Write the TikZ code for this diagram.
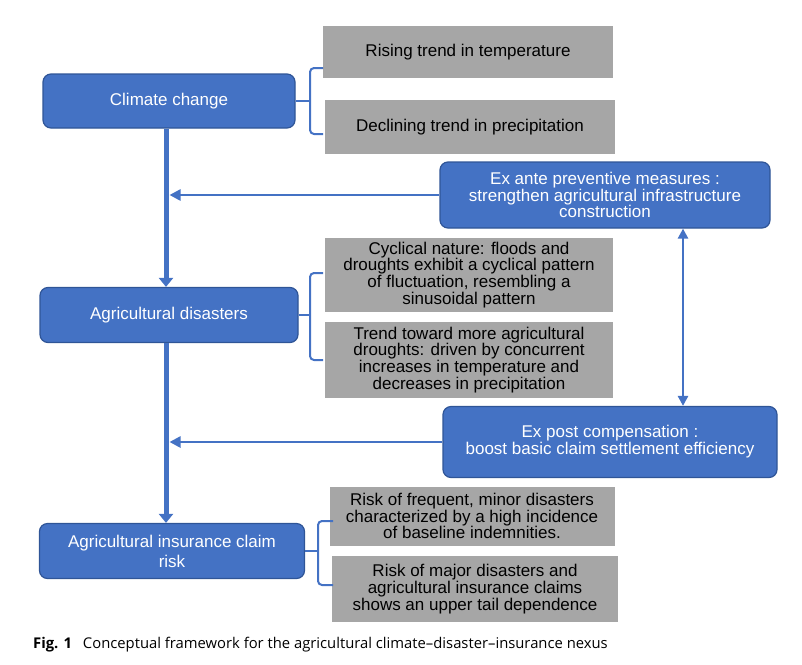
\documentclass[tikz,border=0pt]{standalone}
\usepackage{fontspec}
\setmainfont{Liberation Sans}
\newfontfamily\capfont{Open Sans}
\usetikzlibrary{arrows.meta}
\definecolor{boxblue}{HTML}{4472C4}
\definecolor{edgeblue}{HTML}{2F5597}
\definecolor{boxgrey}{HTML}{A6A6A6}

\begin{document}
\begin{tikzpicture}[x=1pt,y=-1pt,
    bluebox/.style={draw=edgeblue, line width=1.2pt, fill=boxblue, rounded corners=8pt,
      text=white, align=center, inner sep=0pt, font=\fontsize{17}{15.5}\selectfont},
    greybox/.style={fill=boxgrey, align=center, inner sep=0pt, font=\fontsize{17}{15}\selectfont},
    spine/.style={draw=boxblue, line width=5pt, -{Triangle[length=9pt,width=14pt]}},
    feed/.style={draw=boxblue, line width=2.5pt, -{Triangle[length=11pt,width=11pt]}},
    bracket/.style={draw=boxblue, line width=2pt, rounded corners=4pt}]
  \useasboundingbox (0,0) rectangle (802,664);

  % Left column: the three stages
  \node[bluebox, minimum width=252pt, minimum height=54pt] (climate) at (169,101) {Climate change};
  \node[bluebox, minimum width=258pt, minimum height=55pt] (disasters) at (169,315) {Agricultural disasters};
  \node[bluebox, minimum width=265pt, minimum height=55pt, font=\fontsize{17}{20}\selectfont] (claim) at (172,551)
    {Agricultural insurance claim\\risk};

  % Grey boxes with the features of each stage
  \node[greybox, minimum width=290pt, minimum height=52pt] (rise) at (468,52) {Rising trend in temperature};
  \node[greybox, minimum width=290pt, minimum height=54pt] (decline) at (470,127) {Declining trend in precipitation};
  \node[greybox, minimum width=288pt, minimum height=74pt] (cyclical) at (469,275)
    {Cyclical nature: floods and\\droughts exhibit a cyclical pattern\\of fluctuation, resembling a\\sinusoidal pattern};
  \node[greybox, minimum width=288pt, minimum height=76pt] (trend) at (469,360)
    {Trend toward more agricultural\\droughts: driven by concurrent\\increases in temperature and\\decreases in precipitation};
  \node[greybox, minimum width=285pt, minimum height=59pt] (frequent) at (472,516)
    {Risk of frequent, minor disasters\\characterized by a high incidence\\of baseline indemnities.};
  \node[greybox, minimum width=286pt, minimum height=66pt] (major) at (475,589)
    {Risk of major disasters and\\agricultural insurance claims\\shows an upper tail dependence};

  % Right column: measures
  \node[bluebox, minimum width=330pt, minimum height=66pt] (exante) at (605,195)
    {Ex ante preventive measures :\\strengthen agricultural infrastructure\\construction};
  \node[bluebox, minimum width=334pt, minimum height=71pt] (expost) at (610,442)
    {Ex post compensation :\\boost basic claim settlement efficiency};

  % Main chain down the left
  \coordinate (spinex) at (166,0);
  \coordinate (spinehit) at (169.5,0);
  \draw[spine] (climate.south -| spinex) -- (disasters.north -| spinex);
  \draw[spine] (disasters.south -| spinex) -- (claim.north -| spinex);

  % Measures feeding back into the chain
  \draw[feed] (exante.west) -- (exante.west -| spinehit);
  \draw[feed] (expost.west) -- (expost.west -| spinehit);
  \coordinate (link) at (683,0);
  \draw[feed, {Triangle[length=10pt,width=10pt]}-{Triangle[length=10pt,width=10pt]}]
    (exante.south -| link) -- (expost.north -| link);

  % Brackets joining each stage to its features
  \coordinate (brA) at (310,0);
  \coordinate (brC) at (318,0);
  \draw[bracket] (323,68) -- (310,68) -- (310,134) -- (323,134);
  \draw[bracket] (climate.east) -- (climate.east -| brA);
  \draw[bracket] (323,273) -- (310,273) -- (310,360) -- (323,360);
  \draw[bracket] (disasters.east) -- (disasters.east -| brA);
  \draw[bracket] (333,521) -- (318,521) -- (318,585) -- (333,585);
  \draw[bracket] (claim.east) -- (claim.east -| brC);

  % Caption
  \node[anchor=west, inner sep=0pt, font=\capfont\fontsize{14.8}{17}\selectfont] (caption) at (33,645)
    {\textbf{Fig. 1}\hspace{11pt}Conceptual framework for the agricultural climate–disaster–insurance nexus};
\end{tikzpicture}
\end{document}
